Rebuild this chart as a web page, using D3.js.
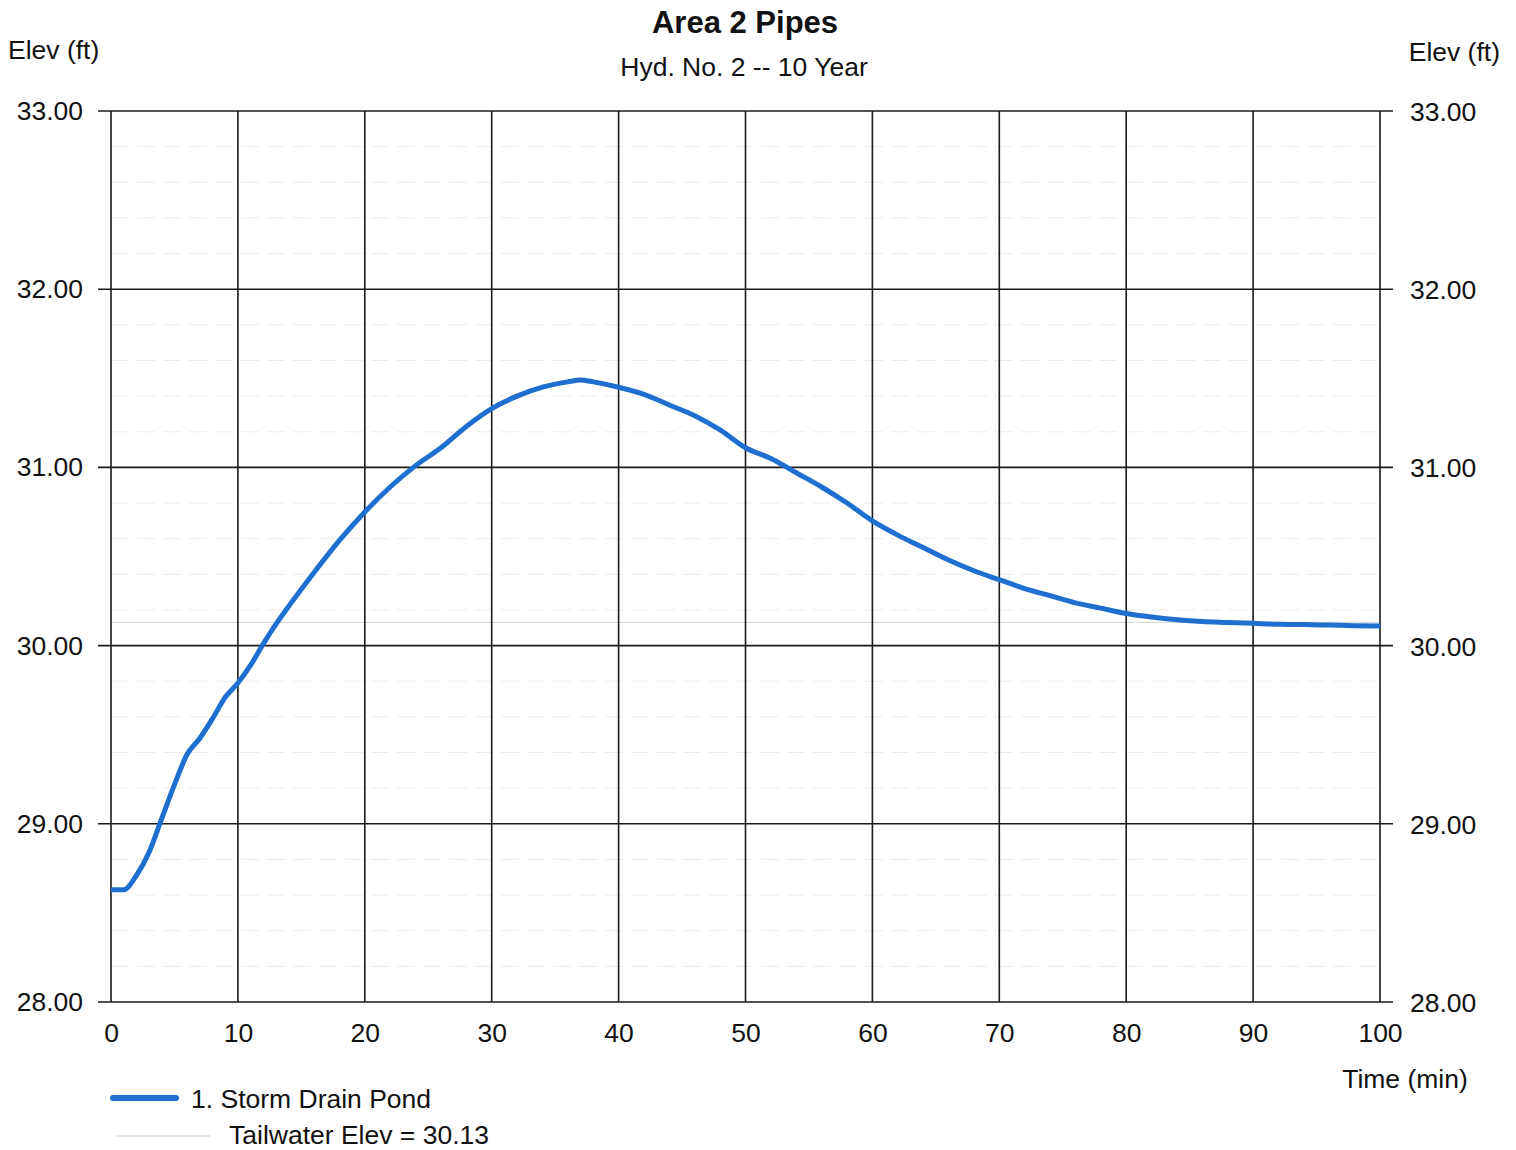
<!DOCTYPE html>
<html>
<head>
<meta charset="utf-8">
<script src="https://cdn.jsdelivr.net/npm/d3@7"></script>
<style>
  body { margin: 0; background: #fff; }
  text { font-family: "Liberation Sans", Arial, sans-serif; fill: #111; }
</style>
</head>
<body>
<div class="chart"></div>
<script>
const svgWidth = 1516;
const svgHeight = 1150;

// time (min) and pond elevation (ft)
const times = [0, 1, 2, 3, 4, 5, 6, 7, 8, 9, 10, 11, 12, 13, 14, 16, 18, 20, 22, 24, 26, 28, 30,
  32, 34, 36, 37, 38, 40, 42, 44, 46, 48, 50, 52, 54, 56, 58, 60, 62, 64, 66, 68, 70,
  72, 74, 76, 78, 80, 82, 84, 86, 88, 90, 92, 94, 96, 98, 100];
const elevs = [28.63, 28.63, 28.71, 28.84, 29.03, 29.22, 29.39, 29.48, 29.59, 29.71, 29.79, 29.89,
  30.01, 30.12, 30.22, 30.41, 30.59, 30.75, 30.89, 31.01, 31.11, 31.23, 31.33,
  31.40, 31.45, 31.48, 31.49, 31.48, 31.45, 31.41, 31.35, 31.29, 31.21, 31.11, 31.05, 30.97,
  30.89, 30.80, 30.70, 30.62, 30.55, 30.48, 30.42, 30.37, 30.32, 30.28, 30.24, 30.21,
  30.18, 30.16, 30.145, 30.135, 30.13, 30.125, 30.12, 30.118, 30.115, 30.112, 30.11];

const tailwater = 30.13;
const xTicks = [0, 10, 20, 30, 40, 50, 60, 70, 80, 90, 100];
const yTicks = [28, 29, 30, 31, 32, 33];
const minorY = [28.2, 28.4, 28.6, 28.8, 29.2, 29.4, 29.6, 29.8, 30.2, 30.4, 30.6, 30.8,
  31.2, 31.4, 31.6, 31.8, 32.2, 32.4, 32.6, 32.8];

const margin = { top: 111, right: 136, bottom: 148, left: 111 };
const width = svgWidth - margin.left - margin.right;   // 1269
const height = svgHeight - margin.top - margin.bottom; // 891

const lineColor = '#1f6fd0';

const svg = d3.select('.chart')
  .append('svg')
  .attr('width', svgWidth)
  .attr('height', svgHeight);

const chartGroup = svg.append('g')
  .attr('transform', `translate(${margin.left}, ${margin.top})`);

const x = d3.scaleLinear().domain([0, 100]).range([0, width]);
const y = d3.scaleLinear().domain([28, 33]).range([height, 0]);

// faint minor grid
chartGroup.selectAll('.minor')
  .data(minorY)
  .enter()
  .append('line')
  .attr('x1', 0)
  .attr('x2', width)
  .attr('y1', d => y(d))
  .attr('y2', d => y(d))
  .attr('stroke', '#ececec')
  .attr('stroke-width', 1)
  .attr('stroke-dasharray', '18,8');

// tailwater line
chartGroup.append('line')
  .attr('x1', 0)
  .attr('x2', width)
  .attr('y1', y(tailwater))
  .attr('y2', y(tailwater))
  .attr('stroke', '#dadada')
  .attr('stroke-width', 1.2);

// major grid
chartGroup.selectAll('.hgrid')
  .data(yTicks)
  .enter()
  .append('line')
  .attr('x1', -13)
  .attr('x2', width + 13)
  .attr('y1', d => y(d))
  .attr('y2', d => y(d))
  .attr('stroke', '#1a1a1a')
  .attr('stroke-width', 1.6);

chartGroup.selectAll('.vgrid')
  .data(xTicks)
  .enter()
  .append('line')
  .attr('x1', d => x(d))
  .attr('x2', d => x(d))
  .attr('y1', 0)
  .attr('y2', height)
  .attr('stroke', '#1a1a1a')
  .attr('stroke-width', 1.6);

// axes (labels only, grid drawn above)
const fmt = d3.format('.2f');

const leftAxis = chartGroup.append('g')
  .call(d3.axisLeft(y).tickValues(yTicks).tickFormat(fmt).tickSize(0).tickPadding(28));

const rightAxis = chartGroup.append('g')
  .attr('transform', `translate(${width}, 1)`)
  .call(d3.axisRight(y).tickValues(yTicks).tickFormat(fmt).tickSize(0).tickPadding(30));

const bottomAxis = chartGroup.append('g')
  .attr('transform', `translate(0, ${height})`)
  .call(d3.axisBottom(x).tickValues(xTicks).tickSize(0).tickPadding(21));

[leftAxis, rightAxis, bottomAxis].forEach(a => {
  a.select('.domain').remove();
  a.selectAll('text')
    .style('font-family', '"Liberation Sans", Arial, sans-serif')
    .style('font-size', '26.5px')
    .attr('fill', '#111');
});

// the curve
const line = d3.line()
  .x((d, i) => x(times[i]))
  .y(d => y(d))
  .curve(d3.curveMonotoneX);

chartGroup.append('path')
  .datum(elevs)
  .attr('d', line)
  .attr('fill', 'none')
  .attr('stroke', lineColor)
  .attr('stroke-width', 5)
  .attr('stroke-linejoin', 'round');

// titles
svg.append('text')
  .attr('x', 745)
  .attr('y', 33)
  .attr('text-anchor', 'middle')
  .style('font-size', '31px')
  .style('font-weight', 'bold')
  .text('Area 2 Pipes');

svg.append('text')
  .attr('x', 744)
  .attr('y', 76)
  .attr('text-anchor', 'middle')
  .style('font-size', '26.5px')
  .text('Hyd. No. 2 -- 10 Year');

svg.append('text')
  .attr('x', 8)
  .attr('y', 59)
  .style('font-size', '26.5px')
  .text('Elev (ft)');

svg.append('text')
  .attr('x', 1500)
  .attr('y', 61)
  .attr('text-anchor', 'end')
  .style('font-size', '26.5px')
  .text('Elev (ft)');

svg.append('text')
  .attr('x', 1405)
  .attr('y', 1088)
  .attr('text-anchor', 'middle')
  .style('font-size', '26.5px')
  .text('Time (min)');

// legend
svg.append('line')
  .attr('x1', 113)
  .attr('x2', 176)
  .attr('y1', 1098)
  .attr('y2', 1098)
  .attr('stroke', lineColor)
  .attr('stroke-width', 6)
  .attr('stroke-linecap', 'round');

svg.append('text')
  .attr('x', 191)
  .attr('y', 1108)
  .style('font-size', '26.5px')
  .text('1. Storm Drain Pond');

svg.append('line')
  .attr('x1', 117)
  .attr('x2', 210)
  .attr('y1', 1136)
  .attr('y2', 1136)
  .attr('stroke', '#dcdcdc')
  .attr('stroke-width', 1.5);

svg.append('text')
  .attr('x', 229)
  .attr('y', 1144)
  .style('font-size', '26.5px')
  .text('Tailwater Elev = 30.13');
</script>
</body>
</html>
